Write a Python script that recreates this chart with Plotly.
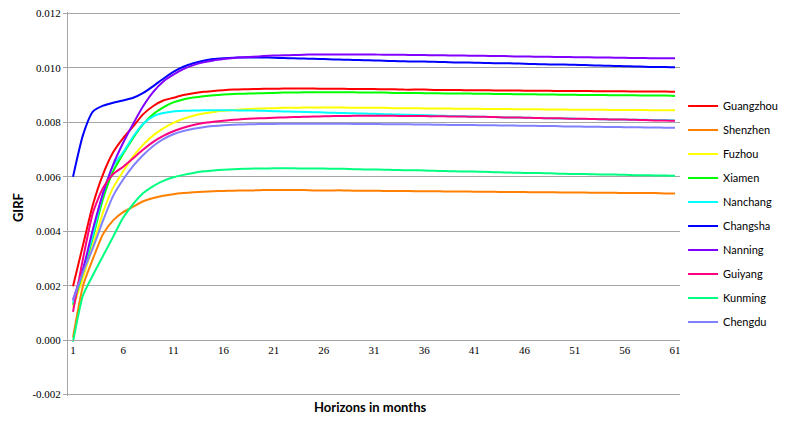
import plotly.graph_objects as go

months = list(range(1, 62))

cities = ["Guangzhou", "Shenzhen", "Fuzhou", "Xiamen", "Nanchang",
          "Changsha", "Nanning", "Guiyang", "Kunming", "Chengdu"]

guangzhou = [0.00198, 0.0035, 0.0050, 0.0061, 0.0069, 0.00742, 0.00785, 0.0083, 0.0086, 0.0088,
             0.0089, 0.0090, 0.00907, 0.00912, 0.00915, 0.00918, 0.0092, 0.00921, 0.00922, 0.00923,
             0.00923, 0.00924, 0.00924, 0.00924, 0.00924, 0.00923, 0.00923, 0.00923, 0.00922, 0.00922,
             0.00922, 0.00921, 0.00921, 0.0092, 0.0092, 0.0092, 0.00919, 0.00919, 0.00919, 0.00918,
             0.00918, 0.00918, 0.00917, 0.00917, 0.00917, 0.00916, 0.00916, 0.00916, 0.00915, 0.00915,
             0.00915, 0.00915, 0.00914, 0.00914, 0.00914, 0.00914, 0.00913, 0.00913, 0.00913, 0.00913, 0.00912]

shenzhen = [0.0001, 0.0020, 0.0030, 0.0039, 0.0044, 0.0047, 0.0049, 0.0051, 0.00522, 0.0053,
            0.00536, 0.0054, 0.00543, 0.00545, 0.00547, 0.00548, 0.00549, 0.0055, 0.0055, 0.00551,
            0.00551, 0.00551, 0.00551, 0.00551, 0.0055, 0.0055, 0.0055, 0.0055, 0.00549, 0.00549,
            0.00549, 0.00548, 0.00548, 0.00548, 0.00547, 0.00547, 0.00547, 0.00546, 0.00546, 0.00546,
            0.00545, 0.00545, 0.00545, 0.00544, 0.00544, 0.00544, 0.00543, 0.00543, 0.00543, 0.00542,
            0.00542, 0.00542, 0.00541, 0.00541, 0.00541, 0.0054, 0.0054, 0.0054, 0.0054, 0.00539, 0.00539]

fuzhou = [0.0012, 0.0023, 0.0035, 0.0047, 0.0056, 0.0062, 0.00675, 0.00718, 0.00752, 0.00778,
          0.00798, 0.00813, 0.00824, 0.00832, 0.00838, 0.00842, 0.00845, 0.00848, 0.0085, 0.00851,
          0.00852, 0.00853, 0.00853, 0.00854, 0.00854, 0.00854, 0.00854, 0.00854, 0.00853, 0.00853,
          0.00853, 0.00853, 0.00852, 0.00852, 0.00852, 0.00851, 0.00851, 0.00851, 0.0085, 0.0085,
          0.0085, 0.00849, 0.00849, 0.00849, 0.00848, 0.00848, 0.00848, 0.00847, 0.00847, 0.00847,
          0.00846, 0.00846, 0.00846, 0.00846, 0.00845, 0.00845, 0.00845, 0.00845, 0.00844, 0.00844, 0.00844]

xiamen = [0.0013, 0.0025, 0.0038, 0.0052, 0.0062, 0.00685, 0.00743, 0.00793, 0.0083, 0.00855,
          0.00873, 0.00884, 0.00891, 0.00896, 0.00899, 0.00902, 0.00904, 0.00905, 0.00906, 0.00907,
          0.00908, 0.00909, 0.00909, 0.0091, 0.0091, 0.0091, 0.0091, 0.0091, 0.0091, 0.00909,
          0.00909, 0.00909, 0.00908, 0.00908, 0.00908, 0.00907, 0.00907, 0.00906, 0.00906, 0.00906,
          0.00905, 0.00905, 0.00904, 0.00904, 0.00903, 0.00903, 0.00903, 0.00902, 0.00902, 0.00901,
          0.00901, 0.009, 0.009, 0.009, 0.00899, 0.00899, 0.00899, 0.00898, 0.00898, 0.00898, 0.00897]

nanchang = [0.00137, 0.0026, 0.0039, 0.0054, 0.0064, 0.0069, 0.00748, 0.00795, 0.00822, 0.00834,
            0.0084, 0.00842, 0.00843, 0.00844, 0.00844, 0.00844, 0.00844, 0.00843, 0.00843, 0.00842,
            0.00841, 0.0084, 0.00839, 0.00838, 0.00837, 0.00836, 0.00835, 0.00834, 0.00833, 0.00832,
            0.00831, 0.0083, 0.00829, 0.00828, 0.00827, 0.00826, 0.00825, 0.00824, 0.00823, 0.00822,
            0.00821, 0.0082, 0.00819, 0.00818, 0.00818, 0.00817, 0.00816, 0.00815, 0.00814, 0.00814,
            0.00813, 0.00812, 0.00812, 0.00811, 0.0081, 0.0081, 0.00809, 0.00809, 0.00808, 0.00808, 0.00807]

changsha = [0.0060, 0.00754, 0.0084, 0.00861, 0.00872, 0.0088, 0.0089, 0.00908, 0.00933, 0.0096,
            0.00985, 0.01004, 0.01017, 0.01026, 0.01032, 0.01035, 0.01037, 0.01038, 0.01038, 0.01038,
            0.01037, 0.01036, 0.01035, 0.01034, 0.01033, 0.01032, 0.01031, 0.0103, 0.01029, 0.01028,
            0.01027, 0.01026, 0.01025, 0.01024, 0.01023, 0.01023, 0.01022, 0.01021, 0.0102, 0.0102,
            0.01019, 0.01018, 0.01017, 0.01017, 0.01016, 0.01015, 0.01014, 0.01013, 0.01012, 0.01012,
            0.01011, 0.0101, 0.01009, 0.01008, 0.01007, 0.01006, 0.01005, 0.01004, 0.01003, 0.01003, 0.01002]

nanning = [0.00148, 0.0026, 0.0041, 0.0054, 0.00645, 0.00725, 0.00795, 0.0086, 0.00912, 0.0095,
           0.00975, 0.00995, 0.0101, 0.0102, 0.01027, 0.01032, 0.01036, 0.01039, 0.01041, 0.01043,
           0.01045, 0.01046, 0.01047, 0.01048, 0.01049, 0.01049, 0.01049, 0.01049, 0.01049, 0.01049,
           0.01049, 0.01048, 0.01048, 0.01048, 0.01047, 0.01047, 0.01046, 0.01046, 0.01045, 0.01045,
           0.01044, 0.01044, 0.01043, 0.01043, 0.01042, 0.01042, 0.01041, 0.01041, 0.0104, 0.0104,
           0.01039, 0.01039, 0.01038, 0.01038, 0.01037, 0.01037, 0.01036, 0.01036, 0.01035, 0.01035, 0.01035]

guiyang = [0.00104, 0.0030, 0.0047, 0.0056, 0.0061, 0.00637, 0.00668, 0.007, 0.00728, 0.0075,
           0.00767, 0.0078, 0.0079, 0.00797, 0.00802, 0.00806, 0.00809, 0.00812, 0.00814, 0.00815,
           0.00817, 0.00818, 0.00819, 0.0082, 0.00821, 0.00822, 0.00823, 0.00823, 0.00824, 0.00824,
           0.00824, 0.00824, 0.00824, 0.00823, 0.00823, 0.00823, 0.00822, 0.00822, 0.00821, 0.00821,
           0.0082, 0.0082, 0.00819, 0.00818, 0.00818, 0.00817, 0.00816, 0.00815, 0.00815, 0.00814,
           0.00813, 0.00813, 0.00812, 0.00811, 0.0081, 0.0081, 0.00809, 0.00808, 0.00807, 0.00807, 0.00806]

kunming = [-0.00006, 0.00165, 0.0024, 0.0031, 0.0038, 0.0045, 0.0050, 0.0054, 0.00566, 0.00585,
           0.00598, 0.00607, 0.00614, 0.0062, 0.00623, 0.00626, 0.00628, 0.00629, 0.0063, 0.0063,
           0.00631, 0.00631, 0.00631, 0.0063, 0.0063, 0.0063, 0.00629, 0.00629, 0.00628, 0.00627,
           0.00627, 0.00626, 0.00625, 0.00624, 0.00624, 0.00623, 0.00622, 0.00621, 0.0062, 0.00619,
           0.00619, 0.00618, 0.00617, 0.00616, 0.00615, 0.00614, 0.00614, 0.00613, 0.00612, 0.00611,
           0.0061, 0.0061, 0.00609, 0.00608, 0.00608, 0.00607, 0.00606, 0.00606, 0.00605, 0.00605, 0.00604]

chengdu = [0.00145, 0.0025, 0.0034, 0.0044, 0.0053, 0.0059, 0.0064, 0.0068, 0.00713, 0.00738,
           0.00756, 0.00768, 0.00776, 0.00782, 0.00786, 0.00789, 0.00791, 0.00792, 0.00793, 0.00794,
           0.00794, 0.00795, 0.00795, 0.00795, 0.00795, 0.00795, 0.00795, 0.00795, 0.00794, 0.00794,
           0.00794, 0.00793, 0.00793, 0.00793, 0.00792, 0.00792, 0.00791, 0.00791, 0.0079, 0.0079,
           0.0079, 0.00789, 0.00789, 0.00788, 0.00788, 0.00787, 0.00787, 0.00786, 0.00786, 0.00785,
           0.00785, 0.00784, 0.00784, 0.00783, 0.00783, 0.00782, 0.00782, 0.00781, 0.00781, 0.0078, 0.0078]

series = [guangzhou, shenzhen, fuzhou, xiamen, nanchang, changsha, nanning, guiyang, kunming, chengdu]
colors = ["#FF0000", "#FF8000", "#FFFF00", "#00FF00", "#00FFFF",
          "#0000FF", "#8000FF", "#FF0080", "#00FF80", "#8080FF"]

x_tickvals = [1, 6, 11, 16, 21, 26, 31, 36, 41, 46, 51, 56, 61]
x_ticktext = [str(v) for v in x_tickvals]
y_tickvals = [-0.002, 0.0, 0.002, 0.004, 0.006, 0.008, 0.010, 0.012]
y_ticktext = ["-0.002", "0.000", "0.002", "0.004", "0.006", "0.008", "0.010", "0.012"]

fig = go.Figure()
for name, vals, col in zip(cities, series, colors):
    fig.add_trace(go.Scatter(
        x=months, y=vals, name=name, mode="lines",
        line=dict(color=col, width=2, shape="spline", smoothing=0.6),
        legendgroup=name,
    ))

grid = "#A6A6A6"
y_lo, y_hi = -0.00205, 0.01205
fig.update_layout(
    width=781, height=413,
    margin=dict(l=60, r=109, t=3.6, b=24.6, autoexpand=False),
    paper_bgcolor="white", plot_bgcolor="white",
    font=dict(family="Liberation Serif", size=11, color="#000000"),
    showlegend=True,
    legend=dict(
        x=1.005, xanchor="left", y=0.793, yanchor="top",
        font=dict(family="Lato", size=11, color="#000000"),
        tracegroupgap=5, bgcolor="rgba(0,0,0,0)",
    ),
    xaxis=dict(
        range=[0.5, 61.5], tickvals=x_tickvals, ticktext=x_ticktext,
        showgrid=False, zeroline=False,
        showline=True, linecolor=grid, linewidth=1,
        anchor="free", position=(0 - y_lo) / (y_hi - y_lo), ticks="",
        tickfont=dict(family="Liberation Serif", size=11),
    ),
    yaxis=dict(
        range=[y_lo, y_hi], tickvals=y_tickvals, ticktext=y_ticktext,
        showgrid=True, gridcolor=grid, gridwidth=1, zeroline=False,
        showline=True, linecolor=grid, linewidth=1,
        ticks="outside", ticklen=4, tickcolor=grid,
        ticklabeloverflow="allow",
        tickfont=dict(family="Liberation Serif", size=11),
    ),
    annotations=[
        dict(text="<b>Horizons in months</b>", x=0.4935, y=-0.028, xref="paper", yref="paper",
             xanchor="center", yanchor="middle", showarrow=False,
             font=dict(family="Lato", size=13, color="#000000")),
        dict(text="<b>GIRF</b>", x=-0.0817, y=0.492, xref="paper", yref="paper",
             xanchor="center", yanchor="middle", showarrow=False, textangle=-90,
             font=dict(family="Lato", size=13, color="#000000")),
    ],
)

fig.write_html("out.html")
